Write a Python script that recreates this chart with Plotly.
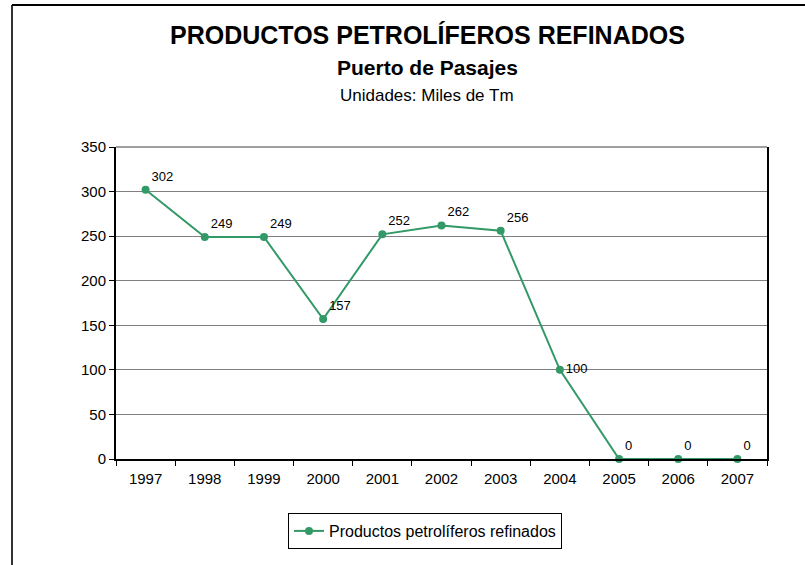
import plotly.graph_objects as go

# Series: refined petroleum products handled at the port (thousand tonnes)
years = ["1997", "1998", "1999", "2000", "2001", "2002", "2003", "2004", "2005", "2006", "2007"]
values = [302, 249, 249, 157, 252, 262, 256, 100, 0, 0, 0]
label_positions = ["top right"] * 7 + ["middle right"] + ["top right"] * 3

series_name = "Productos petrolíferos refinados"
title_main = "PRODUCTOS PETROLÍFEROS REFINADOS"
title_sub = "Puerto de Pasajes"
title_units = "Unidades: Miles de Tm"

GREEN = "#339966"
FONT = "Liberation Sans, Arial, sans-serif"

fig = go.Figure()
fig.add_trace(go.Scatter(
    x=years,
    y=values,
    mode="lines+markers+text",
    name=series_name,
    line=dict(color=GREEN, width=2),
    marker=dict(color=GREEN, size=8),
    text=[str(v) for v in values],
    textposition=label_positions,
    textfont=dict(family=FONT, size=13, color="#000000"),
    cliponaxis=False,
))

# Plot-area geometry (pixels)
L, R, T, B = 116, 38, 147, 106
W, H = 805, 565
pw, ph = W - L - R, H - T - B


def px_x(x):
    return (x - L) / pw


def px_y(y):
    return (H - B - y) / ph


fig.update_layout(
    width=W,
    height=H,
    margin=dict(l=L, r=R, t=T, b=B, pad=0),
    paper_bgcolor="white",
    plot_bgcolor="white",
    font=dict(family=FONT, color="#000000"),
    showlegend=True,
    legend=dict(
        orientation="h",
        x=px_x(425), xanchor="center",
        y=px_y(531), yanchor="middle",
        bordercolor="#000000", borderwidth=1,
        bgcolor="white",
        font=dict(family=FONT, size=16, color="#000000"),
    ),
    annotations=[
        dict(text=f"<b>{title_main}</b>", x=px_x(427), y=px_y(35), xref="paper", yref="paper",
             showarrow=False, font=dict(size=25, family=FONT), xanchor="center", yanchor="middle"),
        dict(text=f"<b>{title_sub}</b>", x=px_x(427), y=px_y(67), xref="paper", yref="paper",
             showarrow=False, font=dict(size=21, family=FONT), xanchor="center", yanchor="middle"),
        dict(text=title_units, x=px_x(427), y=px_y(96), xref="paper", yref="paper",
             showarrow=False, font=dict(size=17, family=FONT), xanchor="center", yanchor="middle"),
    ],
    shapes=[
        # outer frame: left and top edges
        dict(type="line", xref="paper", yref="paper", x0=px_x(12), x1=px_x(12), y0=px_y(5), y1=px_y(570),
             line=dict(color="#333333", width=2)),
        dict(type="line", xref="paper", yref="paper", x0=px_x(12), x1=px_x(810), y0=px_y(5), y1=px_y(5),
             line=dict(color="#000000", width=2)),
        # top edge of the plot area
        dict(type="line", xref="paper", yref="paper", x0=0, x1=1, y0=1, y1=1,
             line=dict(color="#404040", width=1)),
    ],
)

fig.update_xaxes(
    type="category",
    range=[-0.5, len(years) - 0.5],
    tickson="boundaries",
    ticks="outside",
    ticklen=5,
    tickcolor="#000000",
    showline=True,
    linecolor="#000000",
    linewidth=2,
    showgrid=False,
    tickfont=dict(family=FONT, size=15, color="#000000"),
    ticklabelstandoff=5,
    zeroline=False,
)
fig.update_yaxes(
    range=[0, 350],
    dtick=50,
    ticks="outside",
    ticklen=5,
    tickcolor="#000000",
    showline=True,
    linecolor="#000000",
    linewidth=2,
    mirror=True,
    showgrid=True,
    gridcolor="#808080",
    gridwidth=1,
    zeroline=False,
    tickfont=dict(family=FONT, size=15, color="#000000"),
)

fig.write_html("out.html")
